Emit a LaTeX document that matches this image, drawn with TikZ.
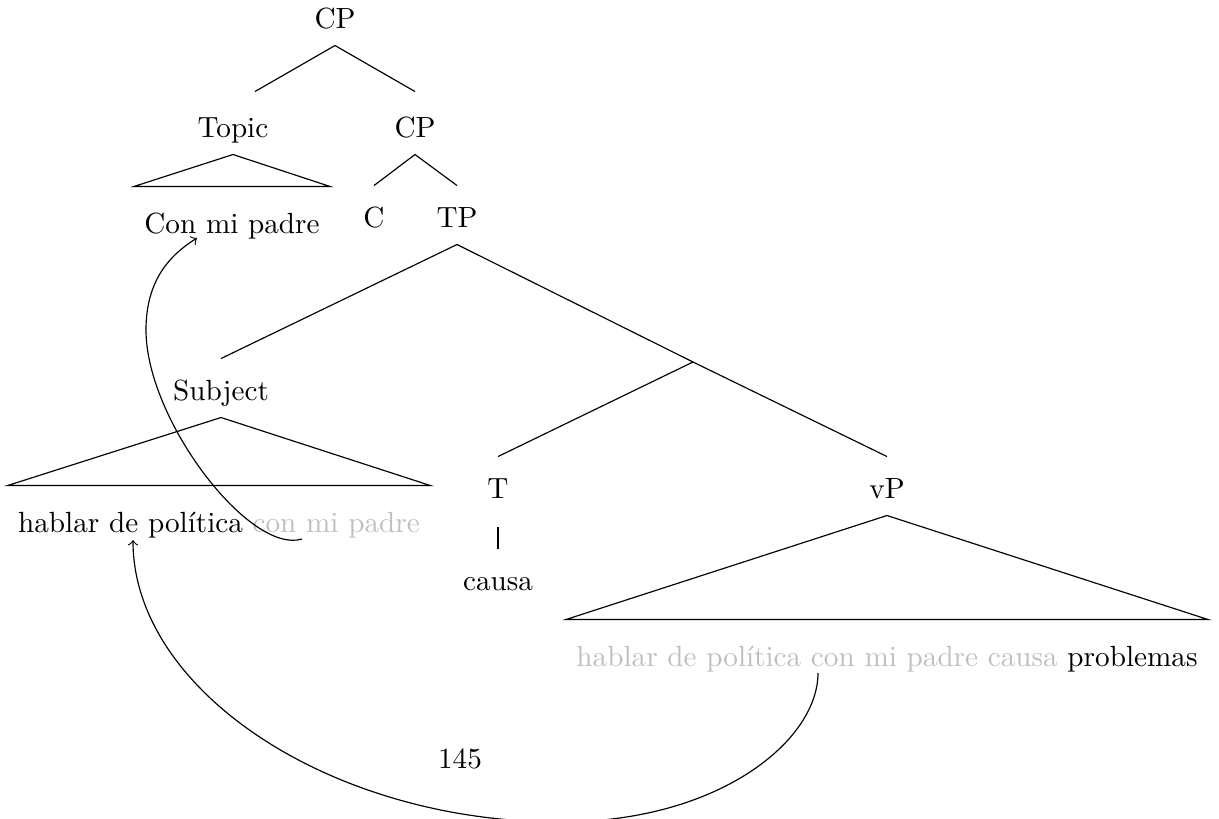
\documentclass[tikz,border=0pt]{standalone}
\usetikzlibrary{calc}
\begin{document}
\begin{tikzpicture}[x=.3425pt,y=-.3425pt,>=to,
  lab/.style={anchor=base,inner sep=0pt,text height=14pt,text depth=5.8pt}]
\useasboundingbox (0,0) rectangle (1219,819);
\node[lab] (cp) at (335,28) {CP};
\node[lab] (topic) at (233,137) {Topic};
\node[lab] (cpb) at (415,137) {CP};
\node[lab] (con) at (232,233) {Con mi padre};
\node[lab] (c) at (374,227) {C};
\node[lab] (tp) at (457,227) {TP};
\node[lab] (subj) at (221,400) {Subject};
\node[lab] (hablar) at (219,532) {hablar de política \textcolor{lightgray}{con mi padre}};
\node[lab] (t) at (498,498) {T};
\node[lab] (causa) at (498,590) {causa};
\node[lab] (vp) at (887,498) {vP};
\node[lab] (leaf) at (887,666) {\textcolor{lightgray}{hablar de política con mi padre causa} problemas};
\node[lab] (page) at (460,768) {145};
\coordinate (tbar) at (693,362);
% branches
\draw (cp.south) -- ($(topic.north)+(22,-4)$) (cp.south) -- ($(cpb.north)+(0,-4)$);
\draw (cpb.south) -- (c.north) (cpb.south) -- (tp.north);
\draw (tp.south) -- (subj.north) (tp.south) -- (tbar) -- (vp.north) (tbar) -- (t.north);
\draw[shorten <=4pt] (t.south) -- (causa.north);
% roofs
\foreach \m/\d in {topic/con,subj/hablar,vp/leaf}
  \draw (\m.south) -- ($(\d.north west)+(-10,-5)$) -- ($(\d.north east)+(10,-5)$) -- cycle;
% movement
\coordinate (from1) at (302,539);
\coordinate (to1) at (197,238);
\coordinate (from2) at (818,673);
\coordinate (to2) at (133,540);
\draw[->] (from1) .. controls (250,555) and (146,420) .. (146,330)
  .. controls (146,280) and (170,255) .. (to1);
\draw[->] (from2) .. controls (818,740) and (720,822) .. (560,822)
  .. controls (330,822) and (133,690) .. (to2);
\end{tikzpicture}
\end{document}
